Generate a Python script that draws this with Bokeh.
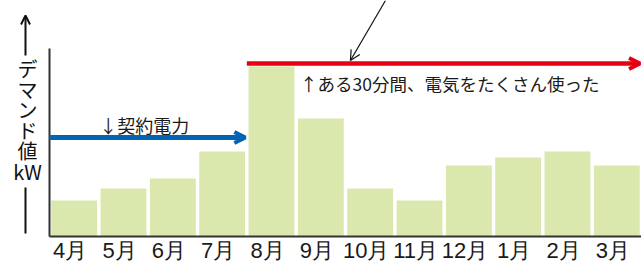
from bokeh.plotting import figure
from bokeh.models import Range1d, FixedTicker, Arrow, OpenHead, ColumnDataSource
from bokeh.core.properties import value
from bokeh.embed import file_html
from bokeh.resources import INLINE
import numpy as np

months = ["4月", "5月", "6月", "7月", "8月", "9月", "10月", "11月", "12月", "1月", "2月", "3月"]
demand = [36, 48, 58, 85, 170, 118, 48, 36, 71, 79, 85, 71]
contract_power = 99
peak_line = 173
contract_label = "↓契約電力"
peak_label = "↑ある30分間、電気をたくさん使った"
y_label_parts = ["デ", "マ", "ン", "ド", "値", "kW"]

FONT = "Noto Sans CJK JP"
BAR = "#dae8ae"
BLUE = "#0464b4"
RED = "#e60012"
INK = "#1a1a1a"

PX = 49.333  # pixels per category
n = len(months)
xs = np.arange(n) + 0.5
src = ColumnDataSource(dict(x=xs, top=demand, m=months))

p = figure(width=641, height=264, output_backend="svg", toolbar_location=None,
           x_range=Range1d(-49 / PX, n), y_range=Range1d(-28, 236),
           min_border_left=0, min_border_right=0, min_border_top=0, min_border_bottom=0)
p.outline_line_color = None
p.grid.visible = False
p.yaxis.visible = False
p.background_fill_color = "white"

p.vbar(x="x", top="top", width=0.93, bottom=0, source=src, fill_color=BAR, line_color=None)

# x axis, anchored at y = 0
tick_pos = [float(x - 0.08) for x in xs]
xa = p.xaxis[0]
xa.fixed_location = 0
xa.ticker = FixedTicker(ticks=tick_pos)
xa.major_label_overrides = {t: m for t, m in zip(tick_pos, months)}
xa.bounds = (0, n)
xa.axis_line_color = "#333333"
xa.axis_line_width = 2
xa.major_tick_line_color = None
xa.minor_tick_line_color = None
xa.major_tick_out = 0
xa.major_tick_in = 0
xa.major_label_standoff = 1
xa.major_label_text_font = "Liberation Sans"
xa.major_label_text_font_size = "22px"
xa.major_label_text_color = INK

# y axis line (partial)
p.segment(x0=[0], y0=[0], x1=[0], y1=[188], line_color="#333333", line_width=2)

# contract power arrow
p.add_layout(Arrow(x_start=0, y_start=contract_power, x_end=3.97, y_end=contract_power,
                   line_color=BLUE, line_width=5,
                   end=OpenHead(size=11, line_color=BLUE, line_width=4)))
# peak arrow
p.add_layout(Arrow(x_start=4.0, y_start=peak_line, x_end=11.97, y_end=peak_line,
                   line_color=RED, line_width=4.5,
                   end=OpenHead(size=11, line_color=RED, line_width=4)))
# pointer arrow
p.add_layout(Arrow(x_start=6.81, y_start=236, x_end=6.10, y_end=176,
                   line_color="#111111", line_width=1.2,
                   end=OpenHead(size=10, line_color="#111111", line_width=1.2)))

p.text(x=[1.01], y=[112], text=[contract_label], text_font=value(FONT), text_font_size="18px",
       text_baseline="middle", text_align="left", text_color=INK)
p.text(x=[5.08], y=[153], text=[peak_label], text_font=value(FONT), text_font_size="17.5px",
       text_baseline="middle", text_align="left", text_color=INK)

# y label (stacked)
lx = -22 / PX
ly = [168 - 20.6 * i for i in range(len(y_label_parts))]
p.text(x=[lx] * len(y_label_parts), y=ly, text=y_label_parts, text_font=value(FONT),
       text_font_size="20px", text_baseline="middle", text_align="center", text_color="#111111")
ax = -24 / PX
p.add_layout(Arrow(x_start=ax, y_start=181, x_end=ax, y_end=221,
                   line_color="#111111", line_width=2,
                   end=OpenHead(size=9, line_color="#111111", line_width=2)))
p.segment(x0=[ax], y0=[3], x1=[ax], y1=[49], line_color="#111111", line_width=2)

open("out.html", "w").write(file_html(p, INLINE))
